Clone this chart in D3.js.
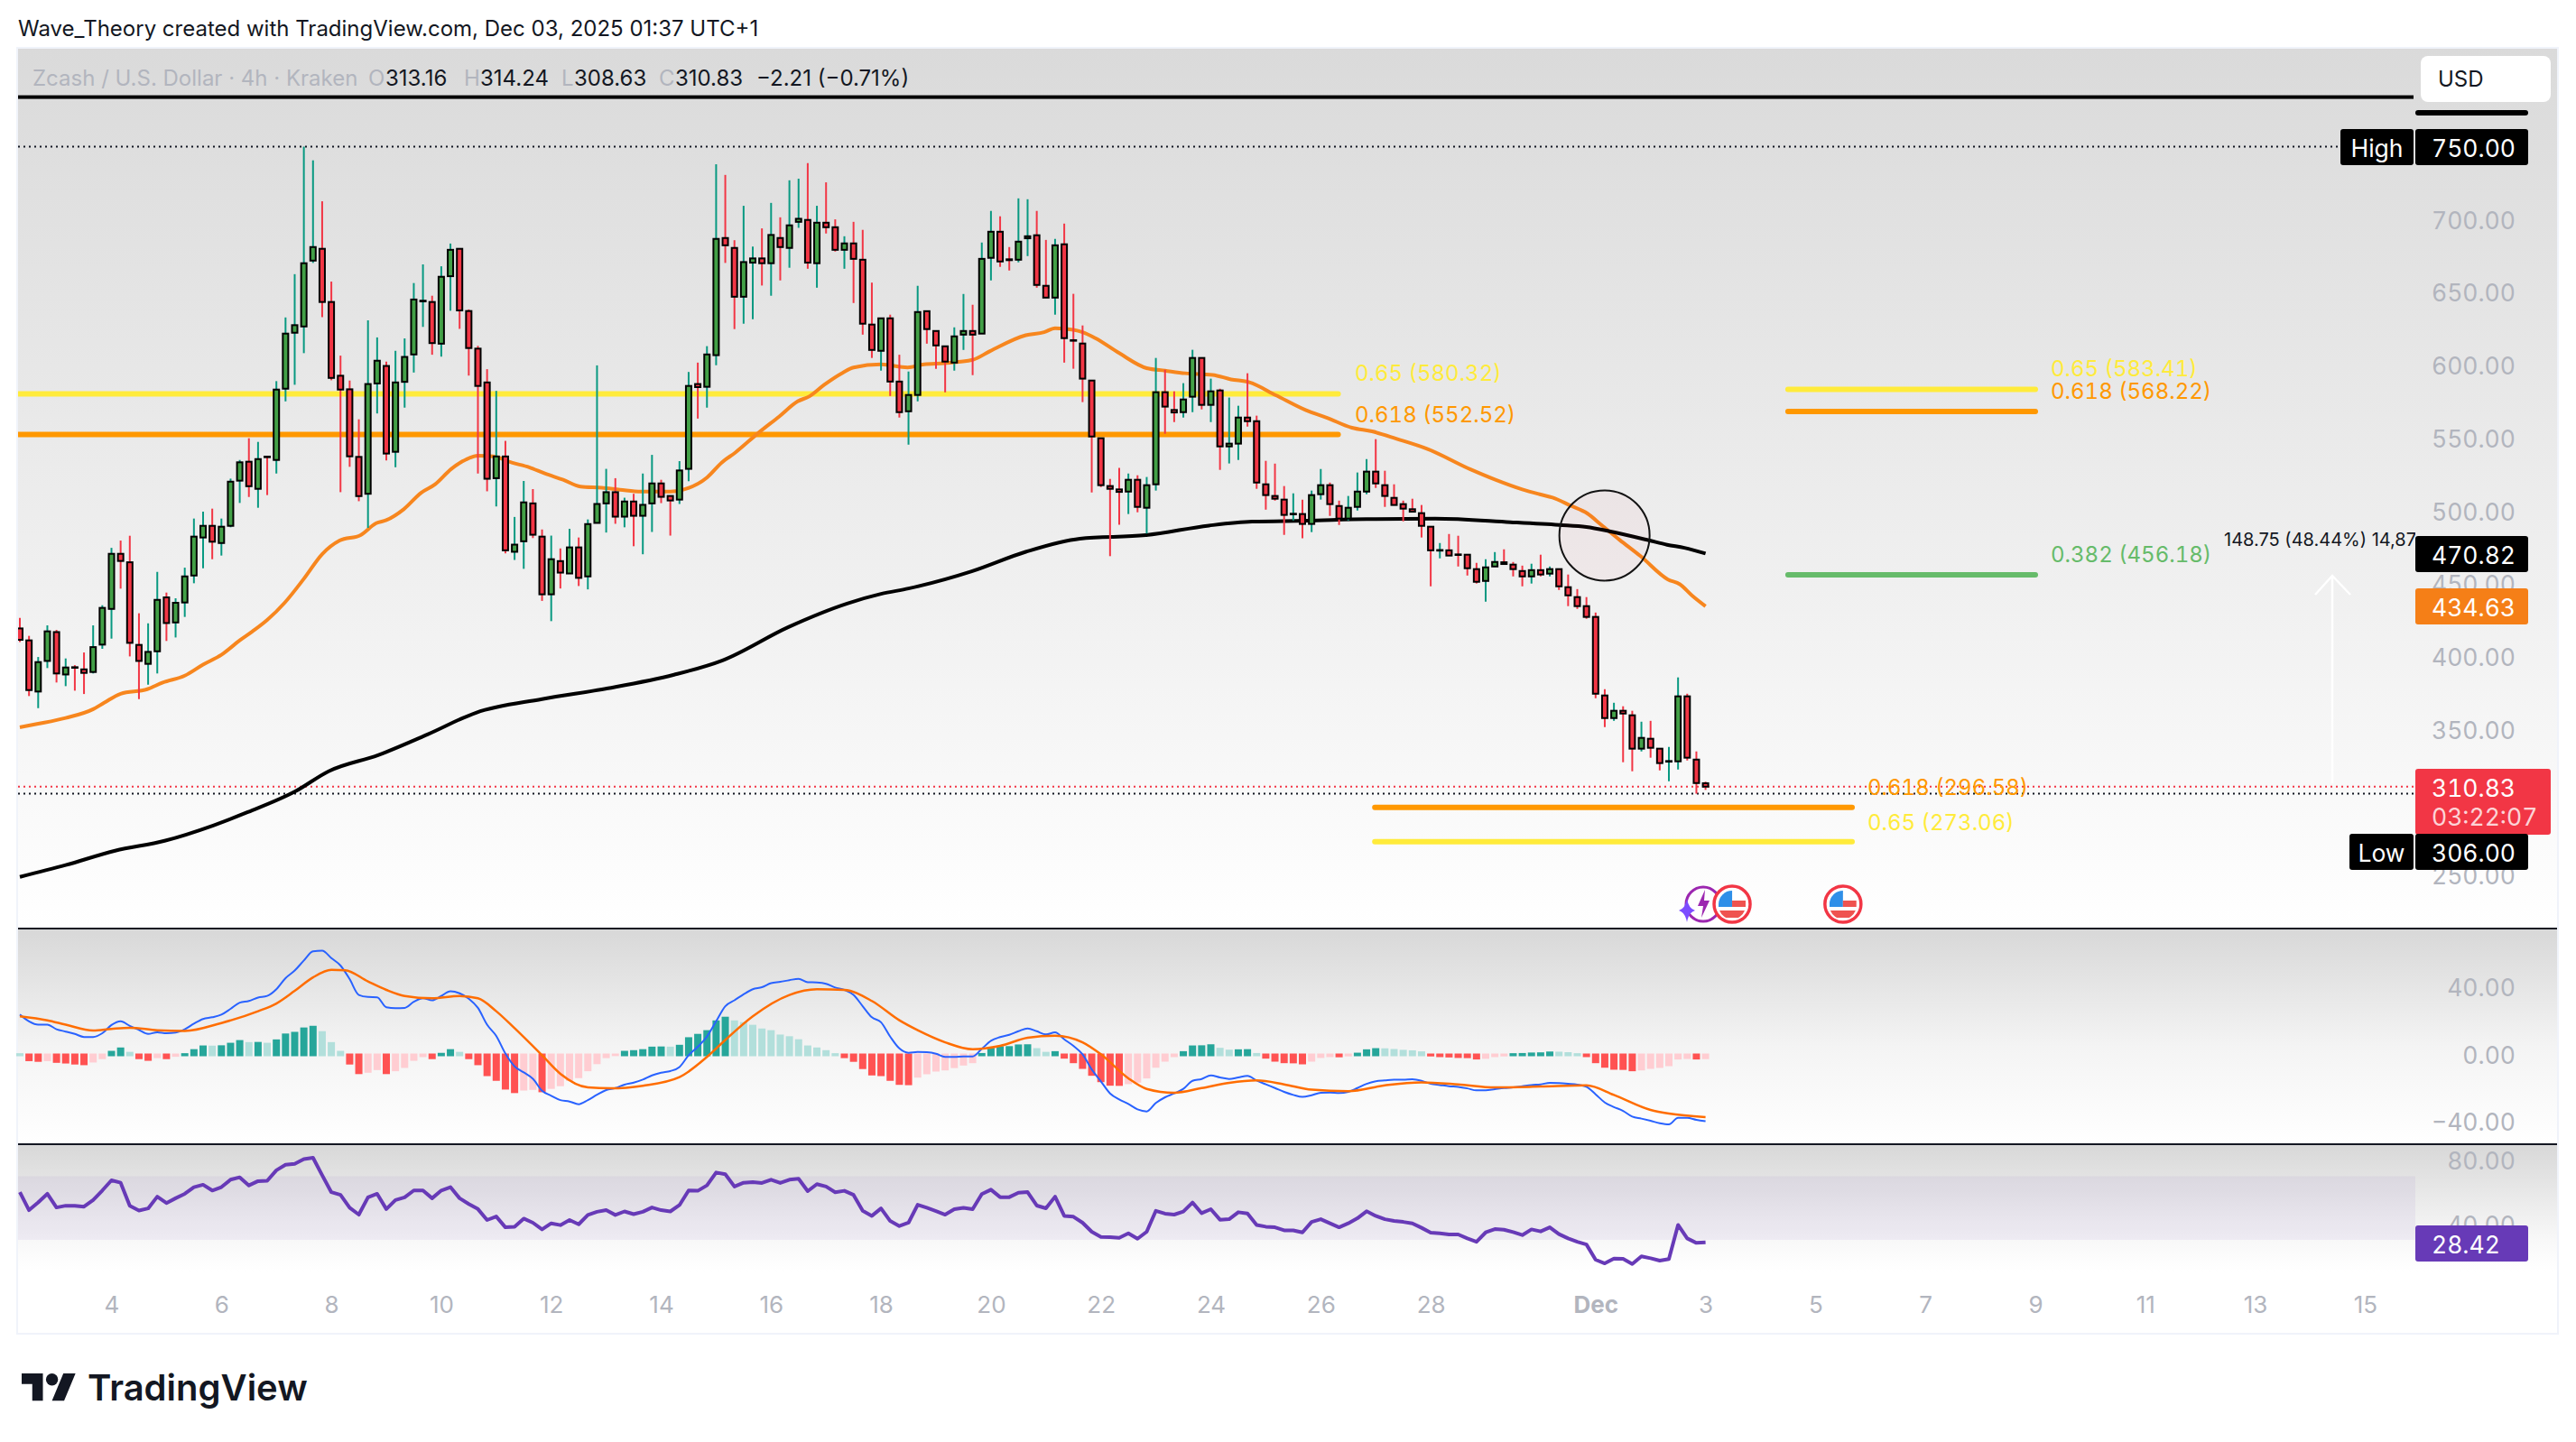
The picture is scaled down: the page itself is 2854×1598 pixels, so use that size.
<!DOCTYPE html>
<html>
<head>
<meta charset="utf-8">
<script src="https://cdn.jsdelivr.net/npm/d3@7"></script>
<style>
    html, body { margin: 0; padding: 0; background: #fff; }
    text { font-family: Inter, "Noto Sans", sans-serif; }
    .fibLabel, .value-axis text, .tag { font-variant-numeric: tabular-nums; }
</style>
</head>
<body>
<div id="chart"></div>
<script>
// 4h candles, one entry per bar, oldest first
var candleOpen = [
    419.4, 411.2, 376.1, 397.1, 416.9, 387.8, 392.8, 391.3, 389.5, 408.3,
    432.8, 470.6, 464.8, 408.1, 395.1, 403.7, 440.7, 423.5, 437.2, 455.7,
    481.8, 489.8, 478, 489.8, 520.8, 533.8, 515.2, 537.3, 535, 583.9,
    622.3, 626.6, 671.8, 679.9, 643.4, 592.8, 583.5, 537.1, 511.8, 587.5,
    599.5, 540.6, 588.6, 607.4, 643.8, 643.4, 614.8, 661.1, 679.9, 637.2,
    611.4, 588.2, 522.5, 537.4, 472, 479.2, 505.2, 482.4, 442.8, 465.6,
    457.1, 475, 455.1, 491.8, 505.2, 512.9, 496.1, 506.5, 496.7, 505.2,
    518.9, 510.3, 507.8, 528.9, 587.1, 585.2, 606.9, 687.3, 680.5, 647,
    670.4, 673.3, 670, 687.3, 680.5, 698.4, 699.7, 670, 697.8, 694.7,
    679.2, 683.6, 672.4, 627.9, 609.9, 632.2, 588.8, 568.4, 579.6, 637.1,
    623.5, 613, 601.8, 621, 623.5, 621.7, 673.7, 691.6, 672.7, 672.4,
    687.1, 689.2, 654.5, 646.4, 683, 617.2, 614.9, 589.5, 549.9, 517.1,
    514.8, 513.3, 521.4, 502.2, 518.3, 581.5, 569.3, 567.8, 578.4, 605,
    572.8, 582.7, 544.3, 546.2, 564.1, 561.6, 518.3, 510.3, 507.8, 497.7,
    497.9, 491.1, 511.5, 517.7, 503.4, 494.8, 502.8, 513.3, 527, 517.7,
    509, 504.7, 501.2, 498.5, 489.2, 472.8, 473, 470.2, 470, 460.1,
    452, 461.9, 464.8, 463.2, 458.8, 455.1, 459.4, 457, 460.1, 447.7,
    440.9, 434.7, 427.3, 373.4, 357.9, 362.9, 359.8, 336.9, 343.7, 336.9,
    328, 328.2, 372.8, 329.4, 313.16];

var candleHigh = [
    426.6, 414.3, 399.8, 421.5, 418.4, 398.8, 394.2, 402.9, 421.5, 435.3,
    474.7, 479.7, 483, 429.8, 422.9, 458.2, 444, 440.1, 461.1, 494.8,
    499.5, 501.6, 494.8, 522.2, 535, 549.9, 547.4, 537.9, 589.1, 632.8,
    662.5, 750, 740.6, 712.5, 657.4, 606.6, 589.5, 562.9, 630.8, 619.1,
    602.5, 609.9, 618.4, 656.4, 669.2, 647.7, 667.9, 683.5, 680, 638.3,
    613.3, 597.3, 582.4, 548.1, 495.9, 520.6, 515, 487.3, 483.1, 474.3,
    487.8, 481.8, 494.2, 599.9, 528.9, 522.5, 509.1, 511.8, 525.7, 538.5,
    521.4, 510.6, 534.2, 595.4, 601.8, 613.1, 737.9, 730.6, 685.8, 709.4,
    681.5, 693.9, 711.4, 701.5, 726.9, 728, 738.7, 709.4, 725.5, 700.1,
    688.5, 698.4, 692.9, 656.7, 632.5, 634.7, 607.2, 595.7, 654.5, 637.3,
    623.8, 613.2, 626, 648.9, 641.5, 684.2, 705.9, 702.2, 681.1, 714.5,
    713.9, 705.9, 686, 686.7, 697.2, 649, 627.3, 589.8, 550.1, 522,
    529.5, 525.7, 524.5, 523.3, 605, 596.9, 582.1, 587.7, 610.6, 605.3,
    590.8, 583.9, 577.8, 572.2, 594.5, 565.4, 534.4, 532.5, 517.1, 512.1,
    507.8, 514, 528.8, 519.5, 507.1, 510.3, 526.4, 535.6, 549.3, 527.6,
    518.3, 507.1, 508.4, 504.1, 489.4, 478, 484.2, 483, 470.2, 464.4,
    466.9, 471.8, 473.7, 465, 462.5, 463.8, 470, 461.9, 460.3, 456.4,
    446.4, 440.9, 430.3, 377.7, 368.4, 366, 362.9, 355.4, 356, 337.1,
    338.1, 385.8, 374.6, 335, 314.24];

var candleLow = [
    410.1, 373, 364.7, 392.2, 382.3, 379.8, 376.7, 374.4, 388.5, 405.4,
    412.4, 446.7, 400.2, 370.9, 380.8, 388.5, 410.8, 413.2, 427.3, 450.4,
    460.7, 466.9, 469.4, 488.8, 505.5, 509.6, 502.2, 510.9, 525.7, 575.2,
    586.6, 608.3, 670.2, 633, 589.7, 512.9, 530.3, 506.7, 488.4, 566.9,
    534.7, 530, 570.9, 595, 626.3, 607.2, 605.9, 637.4, 625, 592.9,
    525.7, 513.5, 503.1, 470.9, 466.4, 460.3, 481.4, 438.3, 424.4, 446.8,
    456.9, 448.5, 446.2, 491.5, 485.2, 491.2, 488.8, 475.8, 470.3, 485.6,
    505.4, 483.1, 504.8, 520.4, 563.4, 570.9, 600, 670.2, 624.8, 628.5,
    631.6, 654.7, 647.7, 658.2, 666.9, 694.3, 666.2, 653.2, 690.4, 678,
    666.2, 642.7, 621, 605, 596.3, 578.9, 564.1, 545.5, 575.2, 614.8,
    597.5, 581.4, 596.3, 610.5, 593.2, 621.5, 658.2, 667.5, 665, 670.6,
    674.9, 653.2, 646.2, 634.7, 601.8, 597.6, 574.7, 512.7, 516.4, 469,
    490.6, 497.9, 499.1, 484.5, 514, 553, 561, 564.1, 567.8, 569.7,
    561, 528.2, 532.6, 535, 557.9, 515.2, 500.9, 507.1, 483.6, 493.5,
    481.2, 485.5, 507.8, 496.6, 490.4, 493.5, 500.3, 511.5, 515.8, 502.8,
    503.9, 492.9, 499.3, 481.8, 448.3, 467.5, 469.2, 461.9, 455.7, 450.2,
    437.8, 461.7, 463.4, 455.1, 448.3, 450.2, 455.1, 455.1, 445.8, 434.7,
    432.8, 426, 371.5, 351.7, 356, 327.6, 321.4, 335, 330.7, 322,
    314.6, 322.6, 328.8, 306, 308.63];

var candleClose = [
    411.6, 377.1, 396.3, 417.4, 388.5, 392.6, 392.4, 388.9, 406.6, 433.5,
    470.6, 465.7, 409.5, 397.1, 403.3, 439, 423.1, 437, 455.1, 482.4,
    489.8, 478.9, 489.2, 520.1, 533.4, 517, 535.6, 536.9, 583.3, 621.7,
    627.5, 670, 681.1, 643.4, 591.3, 583.3, 537.5, 510.2, 587.1, 603.1,
    539.4, 588.2, 605.7, 645.1, 644.3, 615.2, 660.7, 679.2, 637.6, 611.8,
    585.8, 522.1, 537.4, 473, 476.9, 505.9, 483.7, 442.8, 466.9, 457.7,
    475, 454.1, 491, 504.8, 512.9, 496.1, 506.5, 496.7, 504.2, 518.9,
    509.7, 507.2, 527.8, 585.8, 585, 607.4, 686.7, 682.3, 647, 670.8,
    673.3, 670, 689.4, 681.1, 696, 700.5, 670.4, 697.8, 694.7, 679.2,
    683.6, 673, 628.5, 610.5, 632.2, 588.8, 567.8, 579.6, 636.5, 624.8,
    613.6, 602.5, 619.8, 623.5, 621, 673, 691.6, 671.2, 672.1, 684.8,
    688.5, 655.1, 646.4, 682.3, 618.6, 616.8, 590.8, 551.1, 517.7, 515.2,
    513.1, 521.4, 502.8, 517.7, 581.5, 571.6, 567.6, 576.5, 605, 572.8,
    582.1, 544.3, 546.2, 564.1, 561.6, 519.5, 510.9, 508.4, 497.3, 498.1,
    491.1, 510.9, 517.7, 504.7, 494.8, 502.2, 513.3, 527, 518.9, 510.3,
    504.1, 501.6, 499.5, 489.8, 473, 473.2, 469.4, 469.8, 460.7, 451.4,
    461.3, 465, 463.6, 460.1, 455.1, 459.4, 456.4, 460.1, 448.3, 442.1,
    434.7, 427.3, 374.6, 357.9, 362.9, 361, 336.9, 344.3, 337.5, 327,
    328.4, 372.8, 330.7, 313.3, 310.83];

// moving averages, read at these bar positions
var ema50Bars = [0, 2, 5, 8, 9.2, 11, 13.9, 15.6, 18, 20, 22, 24, 25.4, 27, 28.9, 31, 33, 34.9, 37.2, 38.9,
    40, 41.9, 43.8, 45.3, 47.1, 48.7, 50, 51.7, 53.7, 55.6, 57.3, 59.3, 61.2, 63.5, 65.5, 67.8, 71, 72.4, 75, 76.6,
    78.1, 80.6, 82.9, 84.9, 86.2, 87.8, 89.8, 91, 94, 96.9, 98.7, 100.9, 104, 105.9, 109.8, 111.8, 113, 115, 116, 117.4,
    120, 123, 125, 127.2, 130.2, 132.2, 134.2, 137.1, 140.4, 142.7, 145.4, 147.6, 150.3, 153.6, 158.4, 161, 164, 166, 167.3, 169.3,
    171.1, 172.6, 174.6, 176.9, 179.9, 181.2, 182.5, 184];
var ema50Values = [351.6, 354, 358, 364, 368.4, 374.6, 377.7, 382.3, 387, 394.6, 401.3, 411.2, 417.4, 425.2, 437, 453.5, 470.4, 479.7, 483.5, 491.6,
    493.7, 501.2, 512.5, 518.2, 528.9, 535.3, 537.9, 537.4, 533.2, 530, 525.7, 521.4, 516.7, 515.9, 514.6, 513.3, 513.3, 514.6, 522.9, 533.2,
    540.1, 553.5, 564.9, 575.2, 578.7, 586.6, 594.8, 598.5, 600.6, 598.5, 600.6, 601.4, 603.7, 609.7, 620.6, 622.7, 625.4, 624.3, 622.7, 618.6,
    608.3, 598, 596.3, 594.5, 593.4, 590.3, 588.3, 579.4, 569.1, 563.9, 557.1, 554.6, 549.5, 542.7, 528.4, 521.6, 514.8, 511.3, 509.2, 503.6,
    498.3, 490.6, 480.3, 469, 453, 449.7, 442.1, 434.6];

var ema200Bars = [0, 5, 10.4, 15.8, 21.1, 24.7, 30.1, 33.7, 39.1, 44.5, 49.8, 57, 64.2, 71.4, 76.7, 83.9, 90.3, 94, 97, 103.9,
    109.8, 115.7, 122.9, 129.8, 134.5, 140.4, 147, 154.5, 162.7, 168, 171, 173.5, 177.8, 179.8, 181.7, 184];
var ema200Values = [248.9, 257, 266.9, 273.7, 284.2, 292.9, 307.7, 321.4, 332.5, 346.7, 361.6, 370.9, 378.3, 387.6, 397.5, 420.4, 436.5, 443.1, 446.8, 458.6,
    472, 481, 483.4, 490, 492.7, 493.3, 494.4, 494.7, 492.3, 490.4, 489, 486.1, 479.9, 476.8, 474.7, 470.82];

var macdHist = [
    0.2, -4, -4.4, -4, -5, -5.4, -6, -6.4, -4.8, -2.8,
    1.6, 3.6, 1, -2.8, -3.8, -2.2, -2.8, -1.4, 0.2, 2.6,
    4.8, 4.7, 4.9, 6.4, 8, 6.8, 6.9, 6.4, 8.4, 11.9,
    12.9, 15.5, 16.5, 13.3, 6.8, 1.6, -6, -11.7, -10.9, -9.3,
    -11.7, -10, -8, -3.8, -1.6, -2.8, 0.4, 2.6, 1, -2.8,
    -6.4, -12.9, -15.7, -20.9, -23, -21.5, -21.1, -22.5, -20.5, -18.9,
    -15.7, -14.1, -10, -5.8, -2.2, -1, 1.6, 2, 2.6, 4.1,
    4.2, 4.1, 5.2, 9.7, 11.7, 13.9, 19.7, 21.9, 19.7, 18.7,
    17.1, 14.9, 13.9, 11.3, 10.3, 8.5, 4.8, 3.6, 2, 0.2,
    -2.2, -4.4, -8.7, -12.5, -12.9, -15.7, -18.1, -18.3, -13.8, -11.8,
    -10.2, -9.5, -8.1, -6.6, -5.2, 0.3, 3.4, 4.3, 4.4, 5.4,
    5.5, 3.2, 1, 1.4, -2.5, -5.2, -8.6, -12.7, -16.5, -18.6,
    -18.7, -17.7, -16.8, -14.3, -7.9, -4.3, -1.6, 1.4, 4.8, 4.9,
    5.5, 3.4, 2.3, 2.5, 2.6, 0.3, -2.5, -4.3, -5.2, -5.3,
    -5.9, -4.3, -2.1, -1.6, -1.7, -1.2, 0.5, 2.5, 3.2, 3.1,
    2.7, 2.2, 1.9, 1.3, -1.2, -1.6, -1.8, -2.1, -2.2, -3,
    -2.6, -1.6, -1.2, 0.2, 0.3, 0.6, 0.7, 1.2, 1.1, 0.8,
    0.2, -1.6, -5.2, -7.9, -9.1, -9.2, -10, -9.5, -8.6, -8,
    -7, -3, -2.7, -3, -2.8];

var macdLine = [
    23.7, 19.7, 17.7, 17.7, 15, 13.6, 12.2, 10.4, 10.4, 12.6,
    17.5, 19.7, 17, 14.6, 12.2, 13.2, 12.6, 13, 15, 18.3,
    21.1, 22.1, 23.7, 27.1, 30.8, 31.8, 33.8, 34.8, 38.8, 45.4,
    49.9, 55.9, 61.3, 61.7, 57.3, 52.9, 44.8, 35.4, 34.2, 34,
    28.1, 27.5, 27.7, 31.3, 33.4, 32.2, 34.8, 37.6, 36.4, 33.2,
    27.7, 17.7, 11, 0.5, -7.1, -10.7, -14.5, -21.6, -24.6, -27.2,
    -28, -29.6, -27.2, -24, -21.2, -20, -18, -16.8, -15, -12.5,
    -10.9, -9.9, -7.5, -0.5, 4.6, 10.6, 19.7, 28.7, 32.2, 35.8,
    38.8, 40, 42.4, 43.2, 44.2, 45, 43, 42.8, 42, 39.8,
    38.4, 35.4, 28.7, 22.1, 19.1, 10.6, 3.6, 1, 1.5, 1.3,
    0.4, -1.5, -1.5, -1.2, -1.2, 3.3, 8.1, 10.3, 11.7, 13.8,
    15.5, 13.8, 11.9, 13.1, 9, 5.1, 0.1, -8.9, -16, -23.2,
    -26.8, -29.5, -32.7, -33.9, -28.9, -25.5, -23.2, -20.5, -15.7, -14.6,
    -12.5, -13.7, -14.6, -13.7, -12.8, -15.5, -17.8, -20, -22.3, -24.1,
    -25.3, -24.3, -22.8, -22.7, -23, -22.3, -20, -17.5, -16, -15.5,
    -15.1, -15.1, -14.8, -15.7, -17.5, -18.2, -18.9, -19.3, -20.2, -21.4,
    -21.4, -20.7, -20, -19.6, -18.9, -18.2, -17.8, -16.9, -17.1, -17.5,
    -18, -19.3, -23.7, -28.6, -31.3, -33.6, -37, -38.2, -39.5, -40.9,
    -41.6, -37.7, -37.7, -38.9, -39.7];

var signalBars = [0, 3, 5, 8, 10, 12, 15, 18, 22, 26, 28, 30, 32, 34, 35.5, 38, 40, 42, 45, 48,
    50, 52, 54, 57, 59, 62, 64.5, 68, 72, 75, 77, 80, 84, 87, 90, 93, 96, 98, 101, 104,
    107, 110, 113, 116, 118, 121, 123, 126, 129, 132, 135, 138, 141, 145, 149, 153, 157, 161, 166, 171,
    174, 178, 180, 184];
var signalLine = [22.7, 20.3, 17.7, 14.2, 15.2, 15.9, 14.4, 14, 18.7, 25.7, 30.3, 37.8, 45.8, 50.3, 50.1, 43.4, 38.4, 34.8, 33.4, 34.8,
    33.4, 25.7, 15.6, -0.5, -11.5, -19.6, -20.2, -18.6, -13.5, -1.5, 8.6, 22.7, 35.4, 38.8, 38.4, 31.8, 20.3, 14.4, 7.2, 3.1,
    5.1, 9.9, 11.2, 7.2, 0.1, -14.2, -20.5, -22.8, -20, -16.9, -15.5, -17.8, -21, -21.9, -18.4, -16.6, -17.8, -19.6, -19.1, -18.4,
    -24.1, -33, -35.2, -37.3];

var rsiValues = [
    60, 48.7, 53.6, 59, 50.4, 51.5, 51.5, 50.9, 55.1, 61.1,
    67.5, 66, 51.5, 48.5, 49.8, 57.2, 53.2, 56.2, 59, 63.2,
    64.7, 61.1, 63.2, 67.9, 69.4, 64.3, 67, 67.2, 73.8, 77.3,
    77.9, 80.9, 81.7, 70.7, 60, 58.3, 50.2, 45.9, 56.8, 59,
    49.4, 55.1, 56.8, 61.1, 61.1, 56.2, 61.1, 63.2, 56.2, 52.6,
    49.4, 42.5, 44.7, 37.9, 38.3, 43.4, 40.8, 36.6, 40.4, 39.3,
    42.5, 39.8, 45.7, 47.7, 48.7, 45.7, 47.9, 46.2, 47.7, 50.4,
    48.7, 47.9, 51.9, 61.1, 60.9, 64.3, 72.4, 71.3, 63.6, 66,
    66.4, 65.8, 67.9, 65.8, 67.9, 68.5, 60.7, 65.1, 63.6, 60,
    60.9, 58.3, 48.3, 45.1, 49.8, 41.9, 38.7, 40.8, 52.1, 50.2,
    48.1, 45.9, 49.3, 50.2, 49.3, 58.8, 61.6, 56.9, 56.9, 59.7,
    60.1, 51.6, 49.9, 57.2, 45.1, 44.6, 40.8, 35.1, 31.9, 31.7,
    31.3, 34.1, 30.7, 35.1, 48.3, 46.5, 45.9, 47.8, 53.5, 46.8,
    49.3, 42.7, 43, 47.4, 46.6, 39.4, 38.3, 37.9, 36, 36,
    34.7, 41.3, 43, 40.4, 37.9, 40.4, 43.6, 48, 45.1, 43,
    41.9, 41.3, 40.4, 37.6, 34.5, 34.1, 33.4, 33.4, 30.9, 28.8,
    34.7, 36.8, 36.4, 34.9, 33, 36.6, 35.3, 37.9, 33.6, 30.9,
    28.8, 27.1, 17.5, 15.2, 18.2, 18, 14.8, 19.6, 18.4, 16.9,
    17.9, 39.4, 30.9, 28.1, 28.42];

// axis ticks
var priceTicks = [700, 650, 600, 550, 500, 450, 400, 350, 250];
var macdTicks = [40, 0, -40];
var rsiTicks = [80, 40];
var dayTickBars = [10, 22, 34, 46, 58, 70, 82, 94, 106, 118, 130, 142, 154, 172, 184, 196, 208, 220, 232, 244, 256];
var dayTickLabels = ["4", "6", "8", "10", "12", "14", "16", "18", "20", "22", "24", "26", "28", "Dec", "3", "5", "7", "9", "11", "13", "15"];

// fib levels: price, first bar, last bar, label
var fibPrices = [580.32, 552.52, 583.41, 568.22, 456.18, 296.58, 273.06];
var fibStart = [-1, -1, 193, 193, 193, 147.9, 147.9];
var fibEnd = [143.9, 143.9, 220, 220, 220, 200, 200];
var fibLabels = ["0.65 (580.32)", "0.618 (552.52)", "0.65 (583.41)", "0.618 (568.22)", "0.382 (456.18)", "0.618 (296.58)", "0.65 (273.06)"];
var fibColors = ["#ffeb3b", "#ff9800", "#ffeb3b", "#ff9800", "#66bb6a", "#ff9800", "#ffeb3b"];
var fibLabelY = [413, 459, 408, 433, 614, 872, 911];
var fibLabelX = [1501, 1501, 2272, 2272, 2272, 2069, 2069];

var eventBars = [186.9, 199];

var width = 2854, height = 1598;
var paneLeft = 20, paneRight = 2833, axisLeft = 2676, axisText = 2787, tagText = 2694;

var xBar = d3.scaleLinear().domain([0, 184]).range([22, 1889.6]);
var yPrice = d3.scaleLinear().domain([250, 750]).range([970, 162.5]);
var yMacd = d3.scaleLinear().domain([-40, 40]).range([1243, 1094]);
var yRsi = d3.scaleLinear().domain([30, 80]).range([1374, 1286]);

var svg = d3.select("#chart").append("svg")
    .attr("width", width)
    .attr("height", height)
    .style("display", "block");

var defs = svg.append("defs");

function addGradient(id, stops) {
    var g = defs.append("linearGradient")
        .attr("id", id)
        .attr("x1", 0).attr("x2", 0).attr("y1", 0).attr("y2", 1);
    stops.forEach(function (s) {
        g.append("stop").attr("offset", s[0]).attr("stop-color", s[1]);
    });
}

addGradient("mainBg", [[0, "#dadada"], [0.5, "#ececec"], [0.78, "#f6f6f6"], [1, "#ffffff"]]);
addGradient("macdBg", [[0, "#d8d8d8"], [0.55, "#f4f4f4"], [1, "#ffffff"]]);
addGradient("rsiBg", [[0, "#d8d8d8"], [0.75, "#f8f8f8"], [1, "#ffffff"]]);

function addClip(id, x, y, w, h) {
    defs.append("clipPath").attr("id", id)
        .append("rect").attr("x", x).attr("y", y).attr("width", w).attr("height", h);
}
addClip("mainClip", paneLeft, 54, axisLeft - paneLeft, 975);
addClip("flagClip", -15, -15, 30, 30);

// backgrounds and pane frames
function paneBg(y, h, id) {
    svg.append("rect")
        .attr("x", paneLeft).attr("y", y)
        .attr("width", paneRight - paneLeft).attr("height", h)
        .attr("fill", "url(#" + id + ")");
}
paneBg(54, 975, "mainBg");
paneBg(1030, 238, "macdBg");
paneBg(1269, 140, "rsiBg");

svg.append("rect")
    .attr("x", paneLeft - 1).attr("y", 53)
    .attr("width", paneRight - paneLeft + 2).attr("height", 1425)
    .attr("fill", "none")
    .attr("stroke", "#f0f3fa")
    .attr("stroke-width", 2);

svg.append("line").attr("x1", paneLeft).attr("x2", paneRight)
    .attr("y1", 1029).attr("y2", 1029).attr("stroke", "#131722").attr("stroke-width", 2);
svg.append("line").attr("x1", paneLeft).attr("x2", paneRight)
    .attr("y1", 1268).attr("y2", 1268).attr("stroke", "#131722").attr("stroke-width", 2);

// main pane
var main = svg.append("g").attr("clip-path", "url(#mainClip)");

main.append("rect")
    .attr("x", paneLeft).attr("y", yPrice(784) - 2)
    .attr("width", axisLeft - paneLeft - 2).attr("height", 4)
    .attr("fill", "#000");

function dotted(price, color, x2) {
    main.append("line")
        .attr("x1", paneLeft).attr("x2", x2)
        .attr("y1", yPrice(price)).attr("y2", yPrice(price))
        .attr("stroke", color)
        .attr("stroke-width", 2)
        .attr("stroke-dasharray", "2 4");
}
dotted(750, "#131722", 2593);
dotted(310.83, "#f23645", axisLeft);
dotted(306, "#131722", axisLeft);

main.selectAll(".fib")
    .data(fibPrices)
    .enter()
    .append("line")
    .attr("class", "fib")
    .attr("x1", function (d, i) { return xBar(fibStart[i]); })
    .attr("x2", function (d, i) { return xBar(fibEnd[i]); })
    .attr("y1", function (d) { return yPrice(d); })
    .attr("y2", function (d) { return yPrice(d); })
    .attr("stroke", function (d, i) { return fibColors[i]; })
    .attr("stroke-width", 6)
    .attr("stroke-linecap", "round");

function drawLine(parent, bars, values, yScale, color, w) {
    var line = d3.line()
        .x(function (d, i) { return xBar(bars[i]); })
        .y(function (d) { return yScale(d); })
        .curve(d3.curveMonotoneX);
    parent.append("path")
        .datum(values)
        .attr("d", line)
        .attr("fill", "none")
        .attr("stroke", color)
        .attr("stroke-width", w)
        .attr("stroke-linejoin", "round");
}

var allBars = d3.range(candleOpen.length);

drawLine(main, ema50Bars, ema50Values, yPrice, "#f7861e", 4);
drawLine(main, ema200Bars, ema200Values, yPrice, "#000000", 4);

function isUp(i) { return candleClose[i] >= candleOpen[i]; }

main.selectAll(".wick")
    .data(allBars)
    .enter()
    .append("line")
    .attr("class", "wick")
    .attr("x1", function (i) { return xBar(i); })
    .attr("x2", function (i) { return xBar(i); })
    .attr("y1", function (i) { return yPrice(candleHigh[i]); })
    .attr("y2", function (i) { return yPrice(candleLow[i]); })
    .attr("stroke", function (i) { return isUp(i) ? "#089981" : "#f23645"; })
    .attr("stroke-width", 2);

main.selectAll(".body")
    .data(allBars)
    .enter()
    .append("rect")
    .attr("class", "body")
    .attr("x", function (i) { return xBar(i) - 3; })
    .attr("width", 6)
    .attr("y", function (i) { return yPrice(Math.max(candleOpen[i], candleClose[i])); })
    .attr("height", function (i) {
        return Math.max(0.4, Math.abs(yPrice(candleOpen[i]) - yPrice(candleClose[i])));
    })
    .attr("fill", function (i) { return isUp(i) ? "#43a047" : "#f23645"; })
    .attr("stroke", "#000")
    .attr("stroke-width", 2);

// circle around the crossing
main.append("circle")
    .attr("cx", xBar(172.97))
    .attr("cy", yPrice(483.2))
    .attr("r", 50)
    .attr("fill", "#f23645")
    .attr("fill-opacity", 0.04)
    .attr("stroke", "#131313")
    .attr("stroke-width", 2);

// measure arrow
main.append("path")
    .attr("d", "M2584 868V638M2565 659L2584 638L2604 659")
    .attr("fill", "none")
    .attr("stroke", "#ffffff")
    .attr("stroke-width", 2.5);

main.append("text")
    .attr("x", 2464)
    .attr("y", 605)
    .attr("font-size", 20)
    .attr("fill", "#131722")
    .text("148.75 (48.44%) 14,875");

// fib labels
svg.selectAll(".fibLabel")
    .data(fibLabels)
    .enter()
    .append("text")
    .attr("class", "fibLabel")
    .attr("x", function (d, i) { return fibLabelX[i]; })
    .attr("y", function (d, i) { return fibLabelY[i]; })
    .attr("dominant-baseline", "central")
    .attr("font-size", 24)
    .attr("fill", function (d, i) { return fibColors[i]; })
    .text(function (d) { return d; });

// event icons
function flagIcon(x) {
    var g = svg.append("g").attr("transform", "translate(" + x + ",1002)");
    g.append("circle").attr("r", 20).attr("fill", "#fff").attr("stroke", "#f23645").attr("stroke-width", 3.5);
    var f = g.append("g").attr("clip-path", "url(#flagClip)");
    var c = f.append("g");
    c.append("circle").attr("r", 15.5).attr("fill", "#fff");
    c.append("path").attr("d", "M0 -15A15 15 0 0 0 -15 0V3H0Z").attr("fill", "#2f8fe8");
    c.append("path").attr("d", "M0 -4H15V3H0Z").attr("fill", "#ef5350");
    c.append("path").attr("d", "M-14 7H14A15 15 0 0 1 -14 7Z").attr("fill", "#ef5350");
}

svg.append("circle")
    .attr("cx", 1887).attr("cy", 1002).attr("r", 19)
    .attr("fill", "none").attr("stroke", "#9c27b0").attr("stroke-width", 3);
svg.append("path")
    .attr("d", "M1889 986L1881 1004H1887L1885 1017L1894 998H1888Z")
    .attr("fill", "#9c27b0");
svg.append("path")
    .attr("d", "M1869 996Q1871 1007 1878 1009Q1871 1011 1869 1022Q1867 1011 1860 1009Q1867 1007 1869 996Z")
    .attr("fill", "#7c4dff");

eventBars.forEach(function (b) { flagIcon(xBar(b)); });

// macd pane
svg.selectAll(".hist")
    .data(macdHist)
    .enter()
    .append("rect")
    .attr("class", "hist")
    .attr("x", function (d, i) { return xBar(i) - 4; })
    .attr("width", 8)
    .attr("y", function (d) { return d >= 0 ? yMacd(d) - 1 : yMacd(0) - 1; })
    .attr("height", function (d) { return d >= 0 ? yMacd(0) - yMacd(d) + 3 : yMacd(d) - yMacd(0) + 1; })
    .attr("fill", function (d, i) {
        var prev = i > 0 ? macdHist[i - 1] : d;
        if (d >= 0) return d > prev ? "#26a69a" : "#b2dfdb";
        return d < prev ? "#ff5252" : "#ffcdd2";
    });

drawLine(svg, allBars, macdLine, yMacd, "#2962ff", 2);
drawLine(svg, signalBars, signalLine, yMacd, "#ff6d00", 2.5);

// rsi pane
svg.append("rect")
    .attr("x", paneLeft).attr("width", axisLeft - paneLeft)
    .attr("y", yRsi(70)).attr("height", yRsi(30) - yRsi(70))
    .attr("fill", "#7e57c2").attr("fill-opacity", 0.08);

var rsiLine = d3.line()
    .x(function (d, i) { return xBar(i); })
    .y(function (d) { return yRsi(d); });

svg.append("path")
    .datum(rsiValues)
    .attr("d", rsiLine)
    .attr("fill", "none")
    .attr("stroke", "#673ab7")
    .attr("stroke-width", 4)
    .attr("stroke-linejoin", "round");

// axes
function valueAxis(scale, ticks) {
    var g = svg.append("g")
        .attr("class", "value-axis")
        .attr("transform", "translate(" + axisText + ",1.5)")
        .call(d3.axisRight(scale).tickValues(ticks).tickFormat(d3.format(".2f")).tickSize(0).tickPadding(0));
    g.select(".domain").remove();
    g.selectAll("text")
        .attr("text-anchor", "end")
        .attr("font-size", 26.5)
        .attr("font-family", "Inter")
        .attr("fill", "#b2b5be");
}
valueAxis(yPrice, priceTicks);
valueAxis(yMacd, macdTicks);
valueAxis(yRsi, rsiTicks);

var timeAxis = svg.append("g")
    .attr("transform", "translate(0,1437)")
    .call(d3.axisBottom(xBar)
        .tickValues(dayTickBars)
        .tickFormat(function (d, i) { return dayTickLabels[i]; })
        .tickSize(0)
        .tickPadding(0));
timeAxis.select(".domain").remove();
timeAxis.selectAll("text")
    .attr("font-size", 26)
    .attr("font-family", "Inter")
    .attr("fill", "#b2b5be")
    .attr("font-weight", function (d, i) { return dayTickLabels[i] === "Dec" ? 700 : 400; });

// price tags on the axis
function tag(x, y, w, h, fill, label, color) {
    svg.append("rect")
        .attr("x", x).attr("y", y).attr("width", w).attr("height", h)
        .attr("rx", 3).attr("fill", fill);
    if (label) {
        svg.append("text")
            .attr("class", "tag")
            .attr("x", x === axisLeft ? tagText : x + w / 2)
            .attr("y", y + h / 2 + 1)
            .attr("text-anchor", x === axisLeft ? "start" : "middle")
            .attr("dominant-baseline", "central")
            .attr("font-size", 26.5)
            .attr("fill", color)
            .text(label);
    }
}

tag(axisLeft, 122, 125, 6, "#000", "", "");
tag(2593, 143, 81, 40, "#000", "High", "#fff");
tag(axisLeft, 143, 125, 40, "#000", "750.00", "#fff");
tag(axisLeft, 594, 125, 40, "#000", "470.82", "#fff");
tag(axisLeft, 652, 125, 40, "#f57f17", "434.63", "#fff");
tag(axisLeft, 852, 150, 73, "#f23645", "", "");
svg.append("text").attr("class", "tag").attr("x", tagText).attr("y", 873).attr("dominant-baseline", "central")
    .attr("font-size", 26.5).attr("fill", "#fff").text("310.83");
svg.append("text").attr("class", "tag").attr("x", tagText).attr("y", 905).attr("dominant-baseline", "central")
    .attr("font-size", 26.5).attr("fill", "#fff").attr("fill-opacity", 0.8).text("03:22:07");
tag(2603, 924, 71, 40, "#000", "Low", "#fff");
tag(axisLeft, 924, 125, 40, "#000", "306.00", "#fff");
tag(axisLeft, 1358, 125, 40, "#673ab7", "28.42", "#fff");

// USD box
svg.append("rect")
    .attr("x", 2682).attr("y", 62).attr("width", 144).attr("height", 51)
    .attr("rx", 8).attr("fill", "#fff");
svg.append("text")
    .attr("x", 2701).attr("y", 87)
    .attr("dominant-baseline", "central")
    .attr("font-size", 24)
    .attr("fill", "#131722")
    .text("USD");

// header and legend
svg.append("text")
    .attr("x", 20).attr("y", 40)
    .attr("font-size", 24)
    .attr("fill", "#131722")
    .text("Wave_Theory created with TradingView.com, Dec 03, 2025 01:37 UTC+1");

function legendText(x, label, color) {
    svg.append("text")
        .attr("x", x).attr("y", 86)
        .attr("dominant-baseline", "central")
        .attr("font-size", 24)
        .attr("fill", color)
        .text(label);
}
legendText(36, "Zcash / U.S. Dollar · 4h · Kraken", "#b2b5be");
legendText(408, "O", "#b2b5be");
legendText(427, "313.16", "#131722");
legendText(514, "H", "#b2b5be");
legendText(532, "314.24", "#131722");
legendText(622, "L", "#b2b5be");
legendText(636, "308.63", "#131722");
legendText(730, "C", "#b2b5be");
legendText(748, "310.83", "#131722");
legendText(838, "−2.21 (−0.71%)", "#131722");

// logo
var logo = svg.append("g").attr("transform", "translate(24,1515.3) scale(1.68)").attr("fill", "#131722");
logo.append("path").attr("d", "M14 22H7V11H0V4h14v18zM28 22h-8l7.5-18h8L28 22z");
logo.append("circle").attr("cx", 20).attr("cy", 8).attr("r", 4);

svg.append("text")
    .attr("x", 97).attr("y", 1552)
    .attr("font-size", 40)
    .attr("font-weight", 600)
    .attr("fill", "#131722")
    .text("TradingView");
</script>
</body>
</html>
